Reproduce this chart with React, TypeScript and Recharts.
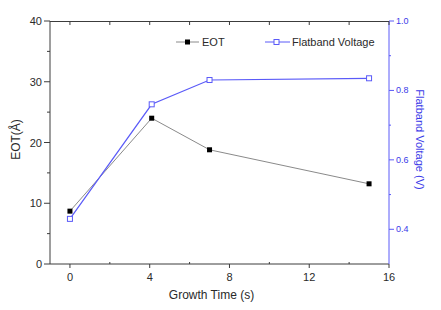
import React from "react";
import { LineChart, Line, XAxis, YAxis, Legend } from "recharts";

// values
const growthTime = [0, 4.1, 7, 15];
const eotValues = [8.7, 24.0, 18.8, 13.2];
const flatbandValues = [0.43, 0.76, 0.83, 0.835];

const xTicks = [0, 2, 4, 6, 8, 10, 12, 14, 16];
const eotTicks = [0, 5, 10, 15, 20, 25, 30, 35, 40];
const vfbTicks = [0.4, 0.5, 0.6, 0.7, 0.8, 0.9, 1.0];

const AXIS = "#3c3c3c";
const LABEL = "#2a2a2a";
const GREY_LINE = "#8a8a8a";
const BLUE = "#5a5af8";
const BLUE_TEXT = "#3a3ae8";
const FONT = "'Liberation Sans', Arial, sans-serif";

// layout
const W = 441;
const H = 310;
const MARGIN = { top: 21, right: 12, bottom: 6, left: 10 };
const Y_AXIS_W = 40;
const X_AXIS_H = 40;
const PLOT_H = H - MARGIN.top - MARGIN.bottom - X_AXIS_H;
const PLOT_W = W - MARGIN.left - MARGIN.right - 2 * Y_AXIS_W;

const data = growthTime.map((t, i) => ({
  t,
  eot: eotValues[i],
  vfb: flatbandValues[i],
}));

// bottom tick also draws the matching inward tick on the top frame
function BottomTick({ x, y, payload }: any) {
  const major = payload.value % 4 === 0;
  return (
    <g>
      <line x1={x} y1={y} x2={x} y2={major ? y + 4 : y - 2} stroke={AXIS} />
      <line x1={x} y1={y - PLOT_H} x2={x} y2={y - PLOT_H + 4} stroke={AXIS} />
      {major && (
        <text x={x} y={y + 17} textAnchor="middle" fontSize={11} fill={LABEL} fontFamily={FONT}>
          {payload.value}
        </text>
      )}
    </g>
  );
}

function LeftTick({ x, y, payload }: any) {
  const major = payload.value % 10 === 0;
  return (
    <g>
      <line x1={x - (major ? 6 : 3)} y1={y} x2={x} y2={y} stroke={AXIS} />
      {major && (
        <text x={x - 8} y={y + 4} textAnchor="end" fontSize={11} fill={LABEL} fontFamily={FONT}>
          {payload.value}
        </text>
      )}
    </g>
  );
}

function RightTick({ x, y, payload }: any) {
  const major = Math.round(payload.value * 10) % 2 === 0;
  return (
    <g>
      <line x1={x} y1={y} x2={x + (major ? 5 : 2)} y2={y} stroke={BLUE} />
      {major && (
        <text x={x + 7} y={y + 3} textAnchor="start" fontSize={9} fill={BLUE_TEXT} fontFamily={FONT}>
          {payload.value.toFixed(1)}
        </text>
      )}
    </g>
  );
}

function FilledSquare({ cx, cy }: any) {
  if (cx == null || cy == null) return null;
  return <rect x={cx - 2.5} y={cy - 2.5} width={5} height={5} fill="#000" />;
}

function HollowSquare({ cx, cy }: any) {
  if (cx == null || cy == null) return null;
  return <rect x={cx - 2.5} y={cy - 2.5} width={5} height={5} fill="#fff" stroke={BLUE} strokeWidth={1} />;
}

function LegendBox() {
  return (
    <svg width={205} height={14} style={{ display: "block", overflow: "visible" }}>
      <line x1={1} y1={7} x2={24} y2={7} stroke={GREY_LINE} />
      <rect x={10} y={4.5} width={5} height={5} fill="#000" />
      <text x={27} y={11} fontSize={11} fill={LABEL} fontFamily={FONT}>EOT</text>
      <line x1={90} y1={7} x2={115} y2={7} stroke={BLUE} />
      <rect x={99} y={4.5} width={5} height={5} fill="#fff" stroke={BLUE} />
      <text x={117} y={11} fontSize={11} fill={LABEL} fontFamily={FONT}>Flatband Voltage</text>
    </svg>
  );
}

export default function App() {
  return (
    <div style={{ position: "absolute", left: 0, top: 0, width: W, height: H, background: "#fff" }}>
      <LineChart width={W} height={H} data={data} margin={MARGIN}>
        <XAxis
          xAxisId="bottom"
          dataKey="t"
          type="number"
          domain={[-1, 16]}
          ticks={xTicks}
          interval={0}
          height={X_AXIS_H}
          tickSize={0}
          tickMargin={0}
          tickLine={false}
          tick={<BottomTick />}
          stroke={AXIS}
          label={({ viewBox }: any) => (
            <text
              x={viewBox.x + viewBox.width / 2 - 8}
              y={viewBox.y + 35}
              textAnchor="middle"
              fontSize={12}
              fill={LABEL}
              fontFamily={FONT}
            >
              Growth Time (s)
            </text>
          )}
        />
        <YAxis
          yAxisId="left"
          type="number"
          domain={[0, 40]}
          ticks={eotTicks}
          interval={0}
          width={Y_AXIS_W}
          tickSize={0}
          tickMargin={0}
          tickLine={false}
          tick={<LeftTick />}
          stroke={AXIS}
          label={({ viewBox }: any) => {
            const cx = viewBox.x + 6;
            const cy = viewBox.y + viewBox.height / 2 - 3;
            return (
              <text
                x={cx}
                y={cy}
                transform={`rotate(-90 ${cx} ${cy})`}
                textAnchor="middle"
                dominantBaseline="central"
                fontSize={12}
                fill={LABEL}
                fontFamily={FONT}
              >
                EOT(Å)
              </text>
            );
          }}
        />
        <YAxis
          yAxisId="right"
          orientation="right"
          type="number"
          domain={[0.3, 1.0]}
          ticks={vfbTicks}
          interval={0}
          width={Y_AXIS_W}
          tickSize={0}
          tickMargin={0}
          tickLine={false}
          tick={<RightTick />}
          stroke={BLUE}
          label={({ viewBox }: any) => {
            const cx = viewBox.x + 31;
            const cy = viewBox.y + viewBox.height / 2 - 3;
            return (
              <text
                x={cx}
                y={cy}
                transform={`rotate(90 ${cx} ${cy})`}
                textAnchor="middle"
                dominantBaseline="central"
                fontSize={11}
                fill={BLUE_TEXT}
                fontFamily={FONT}
              >
                Flatband Voltage (V)
              </text>
            );
          }}
        />
        <Legend
          layout="horizontal"
          verticalAlign="middle"
          align="center"
          content={() => <LegendBox />}
          wrapperStyle={{ position: "absolute", left: 175, top: 35, width: 205, height: 14 }}
        />
        <Line
          xAxisId="bottom"
          yAxisId="left"
          dataKey="eot"
          name="EOT"
          type="linear"
          stroke={GREY_LINE}
          strokeWidth={1}
          dot={<FilledSquare />}
          activeDot={false}
          isAnimationActive={false}
        />
        <Line
          xAxisId="bottom"
          yAxisId="right"
          dataKey="vfb"
          name="Flatband Voltage"
          type="linear"
          stroke={BLUE}
          strokeWidth={1.2}
          dot={<HollowSquare />}
          activeDot={false}
          isAnimationActive={false}
        />
      </LineChart>
      {/* top frame line of the plot box */}
      <div
        style={{
          position: "absolute",
          left: MARGIN.left + Y_AXIS_W,
          top: MARGIN.top,
          width: PLOT_W,
          height: 1,
          background: AXIS,
          pointerEvents: "none",
          zIndex: 5,
        }}
      />
    </div>
  );
}
